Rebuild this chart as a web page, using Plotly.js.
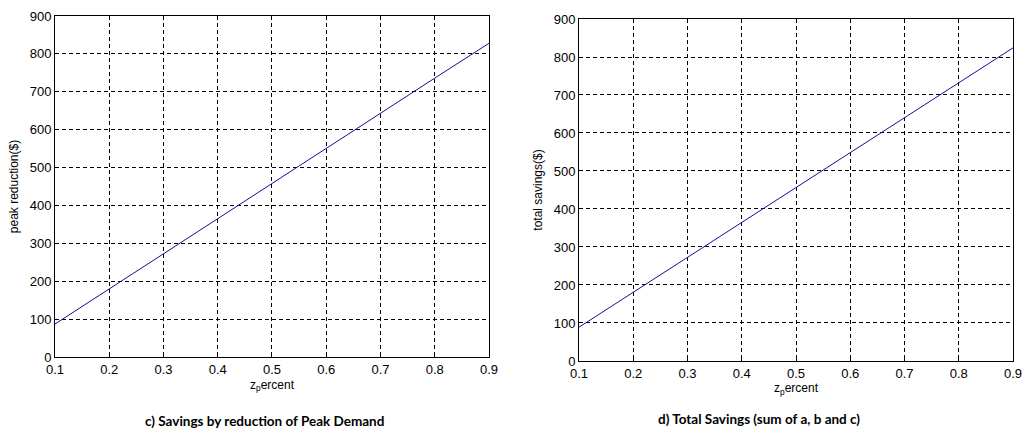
<!DOCTYPE html>
<html>
<head>
<meta charset="utf-8">
<script src="https://cdn.plot.ly/plotly-3.0.1.min.js"></script>
<style>html,body{margin:0;padding:0;background:#fff;}#plot{width:1034px;height:442px;}</style>
</head>
<body>
<div id="plot"></div>
<script>
var zPercent = [0.1, 0.2, 0.3, 0.4, 0.5, 0.6, 0.7, 0.8, 0.9];
var peakReduction = [87, 180, 273, 365, 458, 550, 643, 736, 828];
var totalSavings = [89, 181, 273, 365, 456, 548, 640, 732, 824];
var xTicks = [0.1, 0.2, 0.3, 0.4, 0.5, 0.6, 0.7, 0.8, 0.9];
var yTicks = [0, 100, 200, 300, 400, 500, 600, 700, 800, 900];
var captionLeft = 'c) Savings by reduction of Peak Demand';
var captionRight = 'd) Total Savings (sum of a, b and c)';
var yTitleLeft = 'peak reduction($)';
var yTitleRight = 'total savings($)';
var xTitle = 'z<sub>p</sub>ercent';

var tickFont = {family: 'Liberation Sans', size: 13, color: '#000'};
var titleFont = {family: 'Liberation Sans', size: 12, color: '#000'};

function xAxis(domain, anchor) {
  return {
    domain: domain, anchor: anchor, range: [0.1, 0.9],
    tickvals: xTicks, ticktext: xTicks.map(function(v){return v.toFixed(1);}),
    showgrid: true, gridcolor: '#000', griddash: '4px,3px', gridwidth: 1,
    showline: true, linecolor: '#000', linewidth: 1, mirror: true,
    zeroline: false, ticks: 'inside', ticklen: 4, tickcolor: '#000', tickfont: tickFont,
    title: {text: xTitle, font: titleFont, standoff: 4}
  };
}
function yAxis(domain, anchor, title) {
  return {
    domain: domain, anchor: anchor, range: [0, 900],
    tickvals: yTicks,
    showgrid: true, gridcolor: '#000', griddash: '4px,3px', gridwidth: 1,
    showline: true, linecolor: '#000', linewidth: 1, mirror: true,
    zeroline: false, ticks: 'inside', ticklen: 4, tickcolor: '#000', tickfont: tickFont,
    title: {text: title, font: titleFont, standoff: 8}
  };
}

var data = [
  {x: zPercent, y: peakReduction, type: 'scatter', mode: 'lines', xaxis: 'x', yaxis: 'y',
   line: {color: '#1010a0', width: 1}, hoverinfo: 'skip'},
  {x: zPercent, y: totalSavings, type: 'scatter', mode: 'lines', xaxis: 'x2', yaxis: 'y2',
   line: {color: '#1010a0', width: 1}, hoverinfo: 'skip'}
];

var layout = {
  width: 1034, height: 442,
  margin: {l: 0, r: 0, t: 0, b: 0},
  paper_bgcolor: '#fff', plot_bgcolor: '#fff',
  showlegend: false,
  xaxis: xAxis([0.0532, 0.4729], 'y'),
  yaxis: yAxis([0.1923, 0.9638], 'x', yTitleLeft),
  xaxis2: xAxis([0.5600, 0.9797], 'y2'),
  yaxis2: yAxis([0.1833, 0.9570], 'x2', yTitleRight),
  annotations: [
    {text: '<b>' + captionLeft + '</b>', xref: 'paper', yref: 'paper', x: 264/1034, y: 1 - 421/442,
     xanchor: 'center', yanchor: 'middle', showarrow: false,
     font: {family: 'Lato', size: 13.5, color: '#000'}},
    {text: '<b>' + captionRight + '</b>', xref: 'paper', yref: 'paper', x: 759/1034, y: 1 - 419/442,
     xanchor: 'center', yanchor: 'middle', showarrow: false,
     font: {family: 'Lato', size: 13.5, color: '#000'}}
  ]
};

Plotly.newPlot('plot', data, layout, {staticPlot: true, displayModeBar: false});
</script>
</body>
</html>
